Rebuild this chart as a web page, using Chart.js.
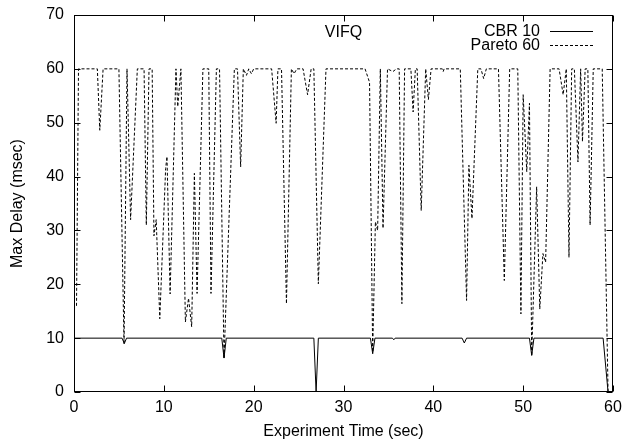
<!DOCTYPE html>
<html><head><meta charset="utf-8">
<script src="https://cdn.jsdelivr.net/npm/chart.js@4/dist/chart.umd.min.js"></script>
<style>html,body{margin:0;padding:0;background:#fff}#wrap{width:625px;height:443px}</style>
</head><body><div id="wrap"><canvas id="c" width="625" height="443"></canvas></div>
<script>
const chartTitle = "VIFQ";
const xTitle = "Experiment Time (sec)";
const yTitle = "Max Delay (msec)";
const seriesNames = ["CBR 10", "Pareto 60"];
const xTicks = [0, 10, 20, 30, 40, 50, 60];
const yTicks = [0, 10, 20, 30, 40, 50, 60, 70];

const cbrTimes = [0, 5.35, 5.6, 5.85, 16.45, 16.7, 16.95, 26.7, 26.95, 27.2, 33.0, 33.25, 33.5, 35.45, 35.6, 35.75, 43.2, 43.45, 43.7, 50.7, 50.95, 51.2, 58.9, 59.45];
const cbrValues = [10, 10, 9, 10, 10, 6.3, 10, 10, 0, 10, 10, 7.1, 10, 10, 9.7, 10, 10, 9.1, 10, 10, 6.8, 10, 10, 0];

const paretoTimes = [0.28, 0.5, 2.6, 2.87, 3.24, 5.0, 5.57, 5.9, 6.3, 7.05, 7.8, 8.05, 8.35, 8.7, 8.9, 9.15, 9.55, 10.2, 10.35, 10.7, 11.35, 11.55, 11.9, 12.4, 12.75, 13.1, 13.4, 13.7, 14.35, 15.0, 15.25, 15.85, 16.2, 16.7, 17.85, 18.2, 18.55, 18.85, 19.2, 19.45, 19.75, 20.0, 22.0, 22.5, 22.7, 23.1, 23.65, 24.2, 24.5, 24.8, 25.5, 26.0, 26.4, 26.7, 27.2, 28.05, 32.4, 32.9, 33.25, 33.55, 33.8, 34.1, 34.4, 34.9, 35.5, 35.9, 36.2, 36.5, 36.8, 37.5, 37.75, 38.0, 38.2, 38.65, 39.15, 39.45, 39.75, 41.0, 41.1, 41.2, 43.0, 43.7, 43.96, 44.3, 44.95, 45.3, 45.6, 45.9, 47.25, 47.9, 48.5, 49.4, 49.75, 50.0, 50.4, 50.7, 50.95, 51.5, 51.85, 52.2, 52.5, 53.0, 54.0, 54.45, 54.8, 55.1, 55.4, 55.7, 56.1, 56.4, 56.6, 56.9, 57.2, 57.45, 57.8, 58.8, 59.45];
const paretoValues = [16, 60, 60, 48.6, 60, 60, 8.9, 60, 32, 60, 60, 31, 60, 60, 29, 32, 13.6, 41.5, 43.7, 18.2, 60, 53, 60, 13, 17.4, 12.1, 40.6, 18.3, 60, 60, 18.3, 60, 60, 6.2, 60, 60, 41.8, 60, 58.8, 60, 59.1, 60, 60, 49.9, 60, 60, 16.4, 60, 59.1, 60, 60, 55.2, 60, 60, 20.1, 60, 60, 57.5, 7.4, 31.6, 30, 60, 30.4, 60, 59.5, 60, 60, 16.4, 60, 60, 52, 60, 60, 33.7, 60, 54.3, 60, 60, 59.5, 60, 60, 17, 42.1, 32.2, 60, 60, 58.2, 60, 60, 20.7, 60, 60, 14.5, 55.2, 40.9, 53.6, 6.7, 38.1, 15.4, 25.7, 24.1, 60, 60, 55.2, 60, 25, 60, 60, 42.7, 60, 46.5, 60, 60, 31, 60, 60, 0];

const FONT = '"Liberation Sans", Arial, Helvetica, sans-serif';
const toPts = (ts, vs) => ts.map((t, i) => ({x: t, y: vs[i]}));

const boxPlugin = {
  id: 'box',
  afterDraw(chart) {
    const {ctx, chartArea: a, scales: {x, y}} = chart;
    ctx.save();
    ctx.strokeStyle = '#000';
    ctx.lineWidth = 1;
    ctx.setLineDash([]);
    const L = Math.round(a.left) + 0.5, R = Math.round(a.right) - 0.5;
    const T = Math.round(a.top) + 0.5, B = Math.round(a.bottom) - 0.5;
    ctx.strokeRect(L, T, R - L, B - T);
    const tl = 6;
    ctx.beginPath();
    xTicks.forEach(v => {
      const px = Math.round(x.getPixelForValue(v)) + 0.5;
      ctx.moveTo(px, B); ctx.lineTo(px, B - tl);
      ctx.moveTo(px, T); ctx.lineTo(px, T + tl);
    });
    yTicks.forEach(v => {
      const py = Math.round(y.getPixelForValue(v)) + 0.5;
      ctx.moveTo(L, py); ctx.lineTo(L + tl, py);
      ctx.moveTo(R, py); ctx.lineTo(R - tl, py);
    });
    ctx.stroke();

    ctx.font = '16px ' + FONT;
    ctx.fillStyle = '#000';
    ctx.textBaseline = 'middle';
    ctx.textAlign = 'center';
    ctx.fillText(chartTitle, (a.left + a.right) / 2, a.top + 18);

    const ds = chart.data.datasets;
    ctx.textAlign = 'right';
    ds.forEach((d, i) => {
      const yy = a.top + 16 + i * 14;
      ctx.fillText(d.label, a.right - 73, yy + 1);
      ctx.beginPath();
      ctx.setLineDash(d.borderDash || []);
      ctx.moveTo(a.right - 63, Math.round(yy) + 0.5);
      ctx.lineTo(a.right - 20, Math.round(yy) + 0.5);
      ctx.stroke();
    });
    ctx.restore();
  }
};

new Chart(document.getElementById('c'), {
  type: 'line',
  data: {
    datasets: [
      {label: seriesNames[0], data: toPts(cbrTimes, cbrValues), borderColor: '#000', borderWidth: 1, pointRadius: 0, tension: 0, fill: false},
      {label: seriesNames[1], data: toPts(paretoTimes, paretoValues), borderColor: '#000', borderWidth: 1, borderDash: [3, 2], pointRadius: 0, tension: 0, fill: false}
    ]
  },
  options: {
    responsive: false,
    animation: false,
    devicePixelRatio: 1,
    layout: {padding: {left: 0, right: 12, top: 15, bottom: 0}},
    plugins: {legend: {display: false}, title: {display: false}, tooltip: {enabled: false}},
    scales: {
      x: {
        type: 'linear', min: 0, max: 60,
        grid: {display: false, drawTicks: false},
        border: {display: false},
        afterBuildTicks: s => { s.ticks = xTicks.map(v => ({value: v})); },
        afterFit: s => { s.height = 51; s.paddingLeft = 0; s.paddingRight = 0; },
        ticks: {color: '#000', font: {family: FONT, size: 16}, padding: 6, autoSkip: false, maxRotation: 0},
        title: {display: true, text: xTitle, color: '#000', font: {family: FONT, size: 16}, padding: {top: 0, bottom: 2}}
      },
      y: {
        type: 'linear', min: 0, max: 70,
        grid: {display: false, drawTicks: false},
        border: {display: false},
        afterBuildTicks: s => { s.ticks = yTicks.map(v => ({value: v})); },
        afterFit: s => { s.width = 74; s.paddingTop = 0; s.paddingBottom = 0; },
        ticks: {color: '#000', font: {family: FONT, size: 16}, padding: 10, autoSkip: false},
        title: {display: true, text: yTitle, color: '#000', font: {family: FONT, size: 16}, padding: {top: 8, bottom: 0}}
      }
    }
  },
  plugins: [boxPlugin]
});
</script>
</body></html>
